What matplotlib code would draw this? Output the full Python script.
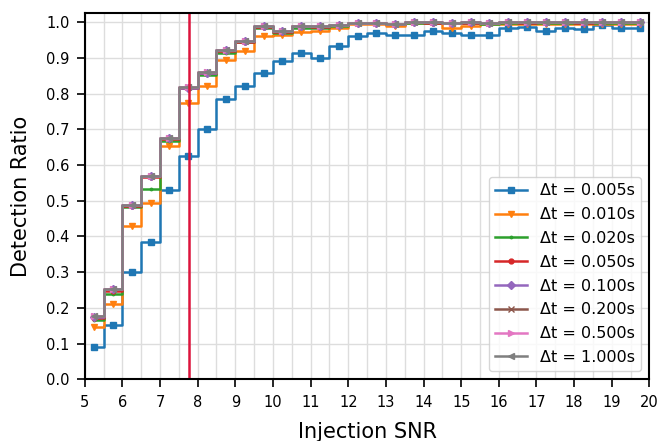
import matplotlib
matplotlib.use("Agg")
import matplotlib.pyplot as plt
from matplotlib.ticker import MultipleLocator

# SNR bin centres
snr = [5.25, 5.75, 6.25, 6.75, 7.25, 7.75, 8.25, 8.75, 9.25, 9.75,
       10.25, 10.75, 11.25, 11.75, 12.25, 12.75, 13.25, 13.75, 14.25, 14.75,
       15.25, 15.75, 16.25, 16.75, 17.25, 17.75, 18.25, 18.75, 19.25, 19.75]

# detection ratio per time window
r_0005 = [0.091, 0.151, 0.301, 0.383, 0.530, 0.624, 0.700, 0.784, 0.820, 0.859,
          0.892, 0.913, 0.900, 0.933, 0.960, 0.971, 0.963, 0.963, 0.976, 0.969,
          0.963, 0.965, 0.983, 0.986, 0.976, 0.983, 0.980, 0.992, 0.983, 0.983]
r_0010 = [0.147, 0.211, 0.430, 0.494, 0.652, 0.775, 0.822, 0.894, 0.920, 0.962,
          0.964, 0.972, 0.975, 0.984, 0.994, 0.995, 0.990, 0.998, 0.998, 0.983,
          0.990, 0.994, 0.994, 0.994, 0.994, 0.994, 0.994, 0.994, 0.994, 0.994]
r_0020 = [0.166, 0.238, 0.483, 0.533, 0.668, 0.815, 0.852, 0.915, 0.944, 0.985,
          0.970, 0.985, 0.985, 0.990, 0.997, 0.998, 0.996, 0.999, 0.998, 0.997,
          0.998, 0.996, 0.998, 0.997, 0.999, 0.998, 0.998, 0.999, 0.998, 0.998]
r_0050 = [0.172, 0.248, 0.486, 0.565, 0.673, 0.816, 0.858, 0.920, 0.945, 0.987,
          0.973, 0.989, 0.987, 0.991, 0.997, 0.998, 0.995, 1.000, 0.999, 0.998,
          0.999, 0.998, 1.000, 0.999, 1.000, 1.000, 0.999, 1.000, 1.000, 1.000]
r_0100 = [0.175, 0.252, 0.487, 0.568, 0.675, 0.817, 0.859, 0.921, 0.946, 0.988,
          0.974, 0.990, 0.988, 0.992, 0.997, 0.998, 0.995, 1.000, 1.000, 0.998,
          1.000, 0.999, 1.000, 1.000, 1.000, 1.000, 1.000, 1.000, 1.000, 1.000]
r_0200 = [0.176, 0.253, 0.488, 0.569, 0.676, 0.818, 0.860, 0.922, 0.946, 0.988,
          0.974, 0.990, 0.988, 0.992, 0.997, 0.998, 0.995, 1.000, 1.000, 0.998,
          1.000, 0.999, 1.000, 1.000, 1.000, 1.000, 1.000, 1.000, 1.000, 1.000]
r_0500 = [0.177, 0.253, 0.488, 0.569, 0.676, 0.818, 0.860, 0.922, 0.946, 0.988,
          0.974, 0.990, 0.988, 0.992, 0.997, 0.998, 0.995, 1.000, 1.000, 0.998,
          1.000, 0.999, 1.000, 1.000, 1.000, 1.000, 1.000, 1.000, 1.000, 1.000]
r_1000 = [0.177, 0.253, 0.488, 0.569, 0.676, 0.818, 0.860, 0.922, 0.946, 0.988,
          0.974, 0.990, 0.988, 0.992, 0.997, 0.998, 0.995, 1.000, 1.000, 0.998,
          1.000, 0.999, 1.000, 1.000, 1.000, 1.000, 1.000, 1.000, 1.000, 1.000]

labels = ["0.005", "0.010", "0.020", "0.050", "0.100", "0.200", "0.500", "1.000"]
series = [r_0005, r_0010, r_0020, r_0050, r_0100, r_0200, r_0500, r_1000]
markers = ["s", "v", ".", "o", "D", "x", ">", "<"]
threshold = 7.78

fig, ax = plt.subplots(figsize=(6.62, 4.41), dpi=100)
fig.subplots_adjust(left=0.128, right=0.981, top=0.970, bottom=0.140)

for lab, vals, m in zip(labels, series, markers):
    ms = 4 if m not in (".", "o") else 3.5
    ax.plot(snr, vals, drawstyle="steps-mid", marker=m, markersize=ms,
            linewidth=1.8, label="Δt = %ss" % lab)

ax.axvline(threshold, color="crimson", linewidth=1.8)

ax.set_xlim(5, 20)
ax.set_ylim(0, 1.025)
ax.xaxis.set_major_locator(MultipleLocator(1))
ax.xaxis.set_minor_locator(MultipleLocator(0.5))
ax.yaxis.set_major_locator(MultipleLocator(0.1))
ax.tick_params(which="minor", length=0)
ax.tick_params(which="major", labelsize=10.5, length=6, width=1.2, pad=5)
ax.grid(True, which="both", axis="x", color="#dddddd", linewidth=1)
ax.grid(True, which="major", axis="y", color="#dddddd", linewidth=1)
ax.set_axisbelow(True)
for s in ax.spines.values():
    s.set_linewidth(1.5)

ax.set_xlabel("Injection SNR", fontsize=15, labelpad=9)
ax.set_ylabel("Detection Ratio", fontsize=15, labelpad=11)
ax.legend(loc="lower right", fontsize=11.5, labelspacing=0.55)

fig.savefig("out.png", dpi=100)
